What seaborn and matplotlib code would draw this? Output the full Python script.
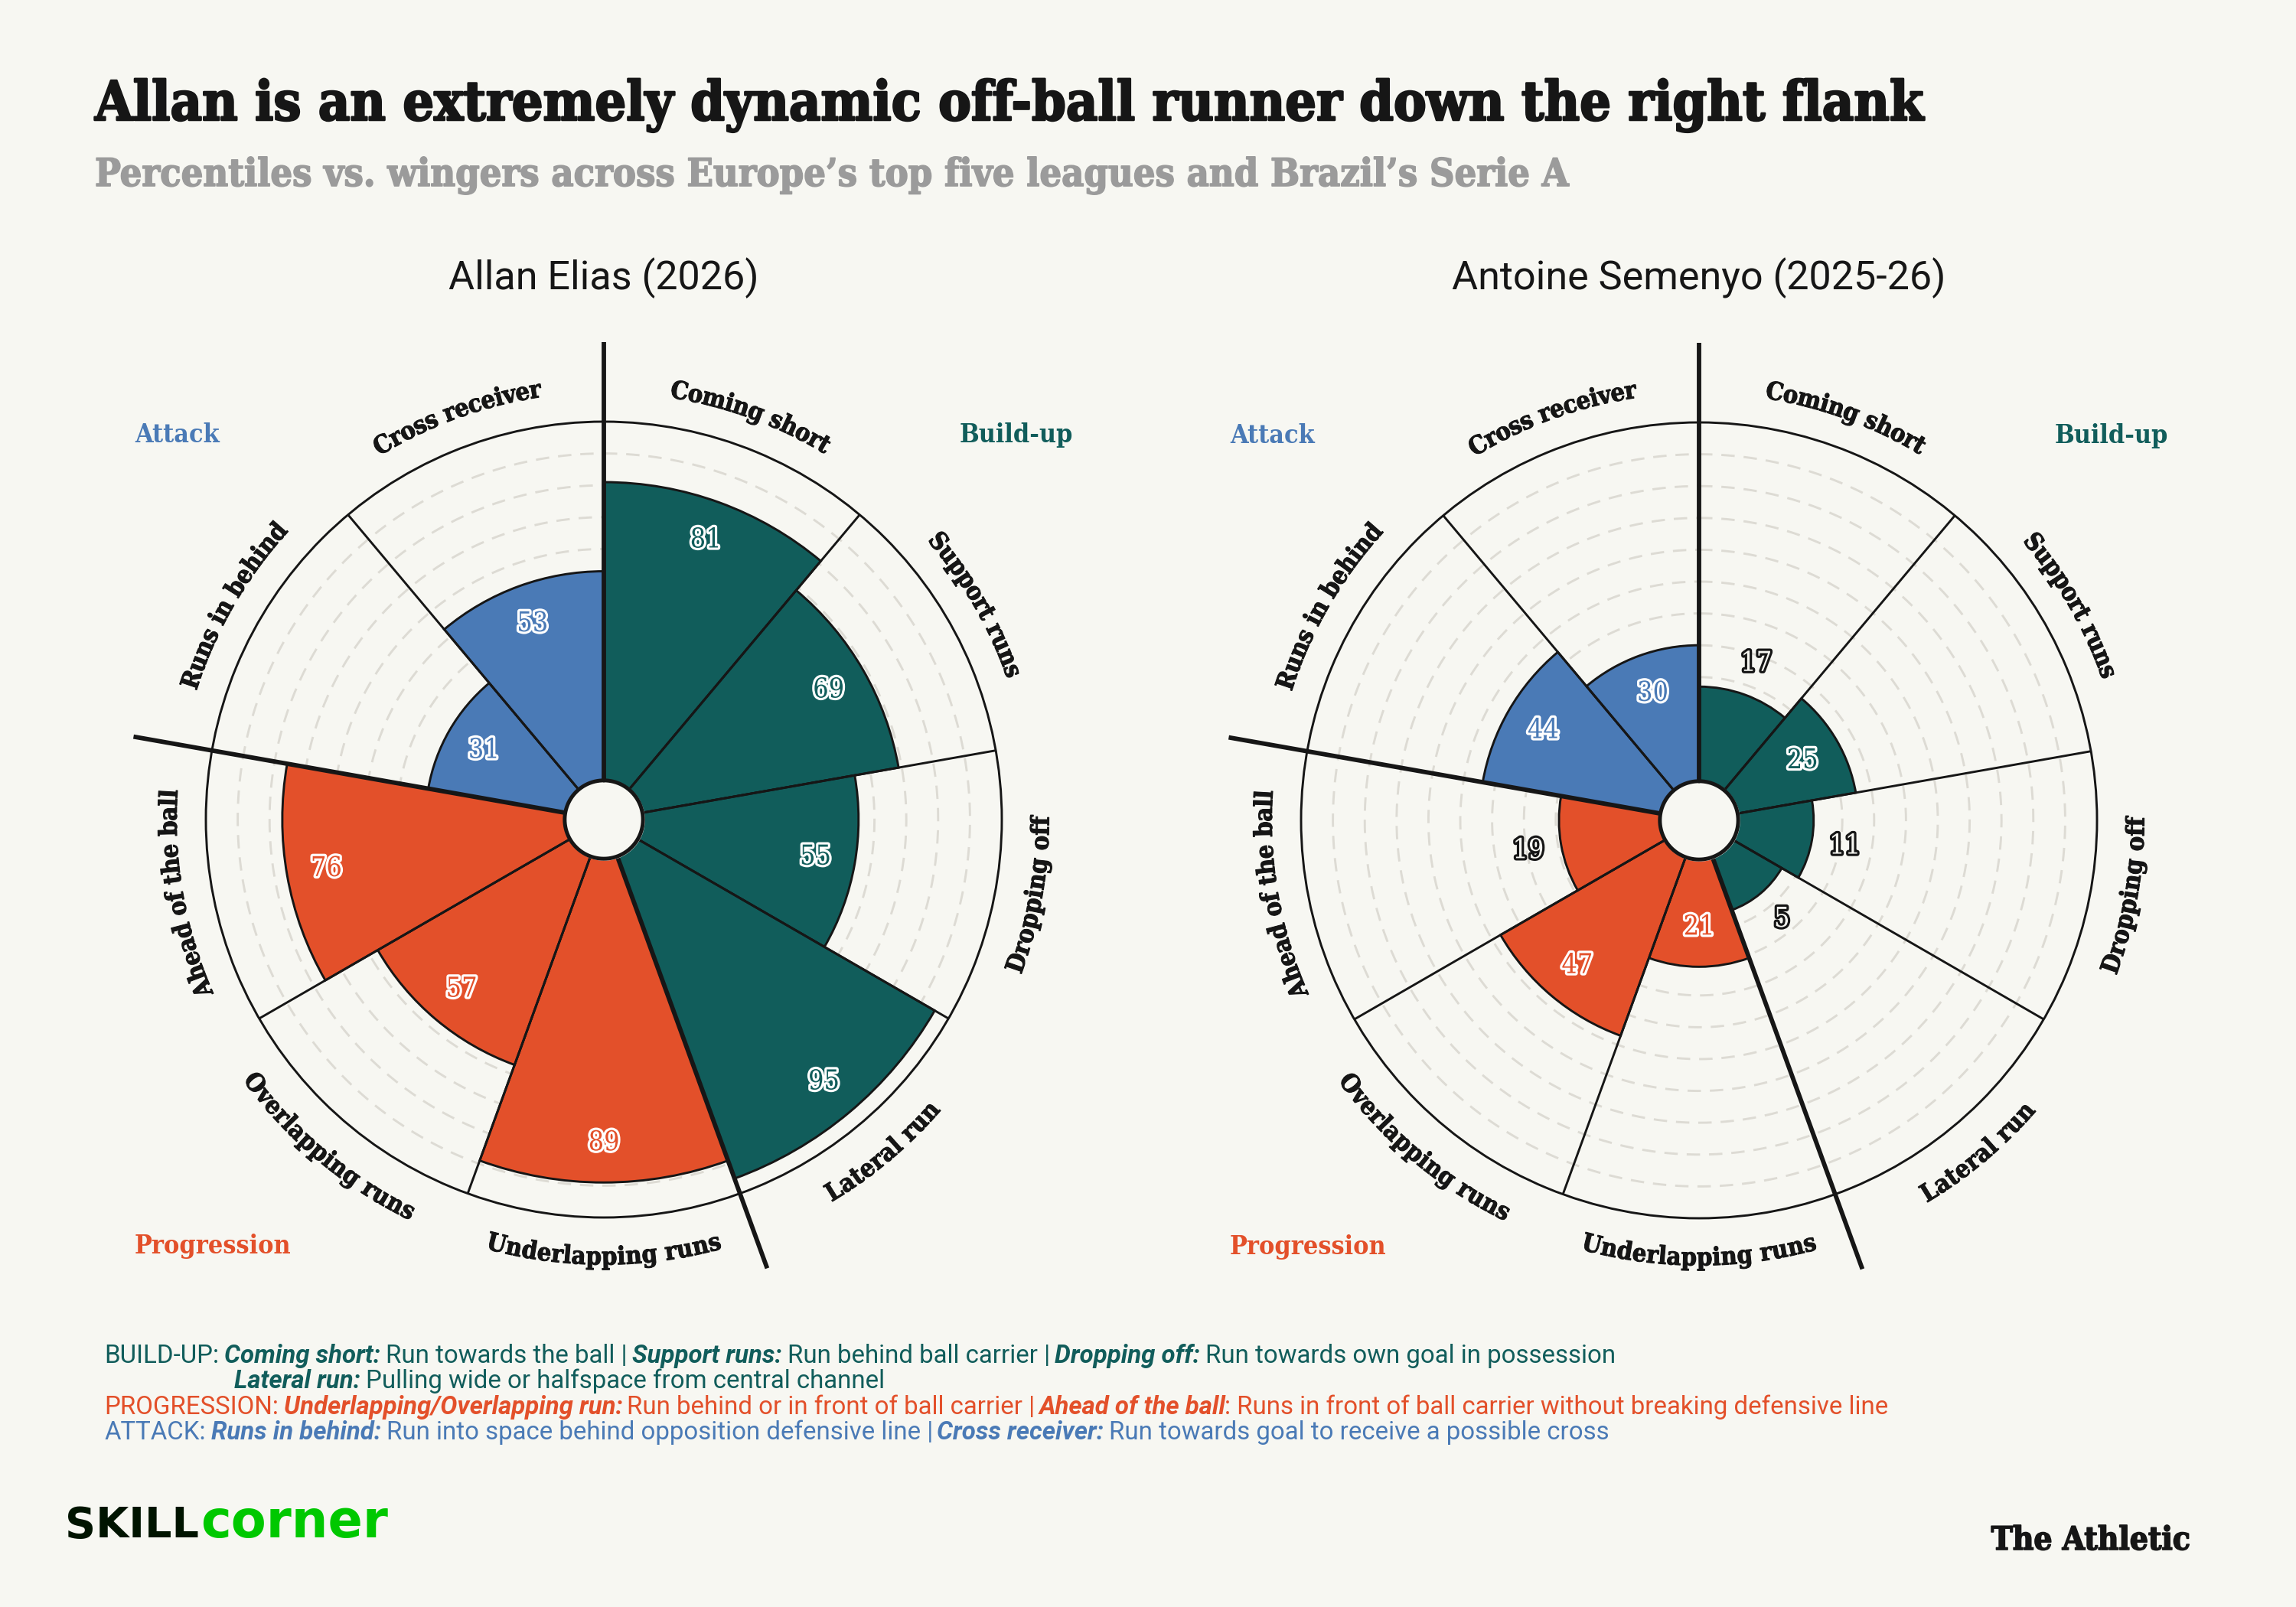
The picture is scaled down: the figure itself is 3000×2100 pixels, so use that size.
import numpy as np
import matplotlib
matplotlib.use('Agg')
import matplotlib.pyplot as plt
import matplotlib.patheffects as pe
from matplotlib.font_manager import FontProperties, findfont, get_font
import seaborn as sns

# ---- data ----
categories = ["Coming short", "Support runs", "Dropping off", "Lateral run",
              "Underlapping runs", "Overlapping runs", "Ahead of the ball",
              "Runs in behind", "Cross receiver"]
groups = ["Build-up", "Build-up", "Build-up", "Build-up",
          "Progression", "Progression", "Progression",
          "Attack", "Attack"]
allan_values = [81, 69, 55, 95, 89, 57, 76, 31, 53]
semenyo_values = [17, 25, 11, 5, 21, 47, 19, 44, 30]
players = ["Allan Elias (2026)", "Antoine Semenyo (2025-26)"]

title = "Allan is an extremely dynamic off-ball runner down the right flank"
subtitle = "Percentiles vs. wingers across Europe\u2019s top five leagues and Brazil\u2019s Serie A"

footnote = [
    ("build", False, [("BUILD-UP: ", "n"), ("Coming short:", "bi"), (" Run towards the ball | ", "n"),
                      ("Support runs:", "bi"), (" Run behind ball carrier | ", "n"),
                      ("Dropping off:", "bi"), (" Run towards own goal in possession", "n")]),
    ("build", True, [("Lateral run:", "bi"), (" Pulling wide or halfspace from central channel", "n")]),
    ("prog", False, [("PROGRESSION: ", "n"), ("Underlapping/Overlapping run:", "bi"),
                     (" Run behind or in front of ball carrier | ", "n"), ("Ahead of the ball", "bi"),
                     (": Runs in front of ball carrier without breaking defensive line", "n")]),
    ("att", False, [("ATTACK: ", "n"), ("Runs in behind:", "bi"),
                    (" Run into space behind opposition defensive line | ", "n"),
                    ("Cross receiver:", "bi"), (" Run towards goal to receive a possible cross", "n")]),
]

# ---- style ----
BG = '#f7f7f2'
INK = '#161616'
TEAL = '#115d5b'
ORANGE = '#e3502a'
BLUE = '#4a7ab6'
GRID = '#dddbd4'
group_colors = {"Build-up": TEAL, "Progression": ORANGE, "Attack": BLUE}
foot_colors = {"build": TEAL, "prog": ORANGE, "att": BLUE}

sns.set_theme(style='white', rc={'figure.facecolor': BG, 'axes.facecolor': BG,
                                 'savefig.facecolor': BG})
plt.rcParams['font.family'] = ['DejaVu Sans']

DPI = 300
W, H = 3000, 2100
R0, RMAX = -25, 100
HOLE = -12.7

SLAB = FontProperties(family='DejaVu Serif', weight='bold', stretch='condensed')
SERIF = FontProperties(family='DejaVu Serif', weight='normal', stretch='condensed')
SANS = FontProperties(family='Roboto', weight='normal')
SANS_BI = FontProperties(family='Roboto', weight='bold', style='italic')
LOGO = FontProperties(family='DejaVu Sans', weight='bold')
heavy = [pe.withStroke(linewidth=0.25, foreground=INK)]


def adv_px(s, prop, size):
    font = get_font(findfont(prop))
    font.set_size(size, 72)
    w = sum(font.load_char(ord(c)).linearHoriAdvance for c in s) / 65536
    return w * DPI / 72


def fit(s, prop, target):
    return 10 * target / adv_px(s, prop, 10)


def fx(x):
    return x / W


def fy(y):
    return 1 - y / H


fig = plt.figure(figsize=(W / DPI, H / DPI), dpi=DPI)

centers_px = [(789, 1071), (2220, 1072)]
RPX = 520

lab_size = fit("Coming short", SLAB, 222)
grp_size = fit("Progression", SLAB, 205)
val_size = 8.6


def polar_px(ax, r):
    c = ax.transData.transform((0, R0))
    p = ax.transData.transform((0, r))
    return np.hypot(*(p - c))


def curved(ax, text, center_deg, r_mid, prop, size, color, flip):
    font = get_font(findfont(prop))
    font.set_size(size, 72)
    adv = np.array([font.load_char(ord(ch)).linearHoriAdvance / 65536 for ch in text]) * DPI / 72
    start = np.concatenate([[0], np.cumsum(adv)[:-1]])
    mid = start + adv / 2 - adv.sum() / 2
    r_px = polar_px(ax, r_mid)
    unit = (RMAX - R0) / polar_px(ax, RMAX)
    half_cap = 0.36 * size * DPI / 72 * unit
    rb = r_mid + half_cap if flip else r_mid - half_cap
    for ch, s in zip(text, mid):
        if ch == ' ':
            continue
        d = np.degrees(s / r_px)
        phi = center_deg - d if flip else center_deg + d
        rot = 180 - phi if flip else -phi
        ax.text(np.radians(phi), rb, ch, fontproperties=prop, size=size, color=color,
                rotation=rot, rotation_mode='anchor', ha='center', va='baseline', zorder=8,
                path_effects=heavy)


n = len(categories)
step = 360 / n
centers = np.radians(np.arange(n) * step + step / 2)
full = np.linspace(0, 2 * np.pi, 400)

for k, (values, name) in enumerate(zip([allan_values, semenyo_values], players)):
    cx, cy = centers_px[k]
    ax = fig.add_axes([fx(cx - RPX), fy(cy + RPX), 2 * RPX / W, 2 * RPX / H], projection='polar')
    ax.set_theta_zero_location('N')
    ax.set_theta_direction(-1)
    ax.set_ylim(R0, RMAX)
    ax.set_xticks([])
    ax.set_yticks([])
    ax.grid(False)
    ax.set_facecolor(BG)
    ax.spines['polar'].set_color(INK)
    ax.spines['polar'].set_linewidth(0.7)

    for g in range(10, 100, 10):
        ax.plot(full, np.full(full.size, g), color=GRID, lw=0.7, ls=(0, (6, 4)), zorder=1)

    cols = [group_colors[g] for g in groups]
    ax.bar(centers, np.array(values) - R0, width=np.radians(step), bottom=R0,
           color=cols, edgecolor=INK, linewidth=0.7, zorder=2)

    for i in range(n):
        b = np.radians(i * step)
        ax.plot([b, b], [HOLE, RMAX], color=INK, lw=0.7, zorder=3)
        if groups[i] != groups[i - 1]:
            ax.plot([b, b], [HOLE, 125], color=INK, lw=1.4, zorder=4,
                    solid_capstyle='butt', clip_on=False)

    ax.fill_between(full, R0, HOLE, color=BG, zorder=5)
    ax.plot(full, np.full(full.size, HOLE), color=INK, lw=1.2, zorder=6)

    for th, v, g in zip(centers, values, groups):
        if v >= 20:
            r, fc, ec = v - 12.5, group_colors[g], 'white'
        else:
            r, fc, ec = v + 10.5, BG, INK
        ax.text(th, r, str(v), ha='center', va='center', fontproperties=SERIF, size=val_size,
                color=fc, zorder=7,
                path_effects=[pe.Stroke(linewidth=1.5, foreground=ec), pe.Normal()])

    for th, lab in zip(centers, categories):
        c_deg = np.degrees(th)
        curved(ax, lab, c_deg, 112, SLAB, lab_size, INK, 90 < c_deg < 240)

    fig.text(fx(cx), fy(378), name, ha='center', va='baseline', fontproperties=SANS,
             size=fit(players[0], SANS, 406), color=INK)
    fig.text(fx(cx - 613), fy(cy - 493), "Attack", fontproperties=SLAB, size=grp_size,
             color=BLUE, va='baseline')
    fig.text(fx(cx + 465), fy(cy - 493), "Build-up", fontproperties=SLAB, size=grp_size,
             color=TEAL, va='baseline')
    fig.text(fx(cx - 613), fy(cy + 567), "Progression", fontproperties=SLAB, size=grp_size,
             color=ORANGE, va='baseline')

# ---- titles ----
fig.text(fx(124), fy(157), title, fontproperties=SLAB, size=fit(title, SLAB, 2392),
         color=INK, va='baseline', path_effects=[pe.withStroke(linewidth=0.6, foreground=INK)])
fig.text(fx(124), fy(243), subtitle, fontproperties=SLAB, size=fit(subtitle, SLAB, 1927),
         color='#9b9b9b', va='baseline',
         path_effects=[pe.withStroke(linewidth=0.4, foreground='#9b9b9b')])

# ---- footnote ----
styles = {"n": SANS, "bi": SANS_BI}
w10 = sum(adv_px(t, styles[s], 10) for t, s in footnote[0][2])
foot_size = 10 * 1986 / w10
baselines = [1781, 1814, 1848, 1881]
for (key, indent, runs), yb in zip(footnote, baselines):
    x = 306 if indent else 136
    for t, s in runs:
        lead = len(t) - len(t.lstrip(' '))
        xs = x + adv_px(t[:lead], styles[s], foot_size)
        fig.text(fx(xs), fy(yb), t.strip(' '), fontproperties=styles[s], size=foot_size,
                 color=foot_colors[key], va='baseline')
        x += adv_px(t, styles[s], foot_size)

# ---- logos ----
s1 = fit("SKILL", LOGO, 175)
fig.text(fx(85), fy(2009), "SKILL", fontproperties=LOGO, size=s1, color='#001400', va='baseline')
s2 = fit("corner", LOGO, 245)
fig.text(fx(262), fy(2009), "corner", fontproperties=LOGO, size=s2, color='#00c800', va='baseline')
fig.text(fx(2861), fy(2025), "The Athletic", fontproperties=SLAB, size=fit("The Athletic", SLAB, 261),
         color=INK, ha='right', va='baseline',
         path_effects=[pe.withStroke(linewidth=0.4, foreground=INK)])

fig.savefig('out.png', dpi=DPI, facecolor=BG)
